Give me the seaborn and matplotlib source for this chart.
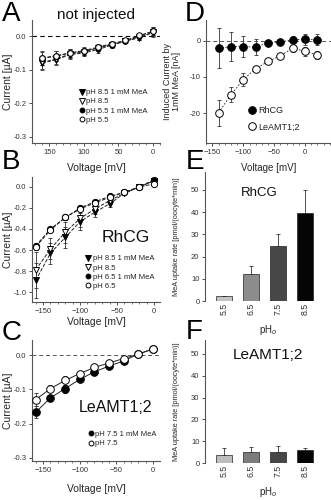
import numpy as np
import pandas as pd
import matplotlib
matplotlib.use("Agg")
import matplotlib.pyplot as plt
import seaborn as sns
from matplotlib.ticker import MultipleLocator, FixedLocator, FixedFormatter
from matplotlib.lines import Line2D

sns.set_theme(style="ticks")
plt.rcParams['font.family'] = ['Liberation Sans', 'DejaVu Sans']
plt.rcParams['axes.linewidth'] = 0.8
plt.rcParams['axes.edgecolor'] = '#555555'

# ---------------- data ----------------
volt = [-160, -140, -120, -100, -80, -60, -40, -20, 0]

# Panel A (not injected)
a_tri_f = [-0.080, -0.070, -0.055, -0.050, -0.040, -0.027, -0.015, -0.005, 0.012]
a_tri_o = [-0.078, -0.068, -0.053, -0.047, -0.035, -0.025, -0.014, -0.003, 0.010]
a_cir_f = [-0.065, -0.058, -0.050, -0.045, -0.035, -0.025, -0.015, 0.000, 0.015]
a_cir_o = [-0.066, -0.060, -0.050, -0.043, -0.033, -0.022, -0.013, 0.002, 0.014]
a_err = [0.020, 0.015, 0.012, 0.010, 0.010, 0.008, 0.006, 0.008, 0.012]
a_labels = ["pH 8.5 1 mM MeA", "pH 8.5", "pH 5.5 1 mM MeA", "pH 5.5"]

# Panel B (RhCG)
b_tri_f = [-0.89, -0.63, -0.48, -0.33, -0.24, -0.16, -0.06, 0.00, 0.06]
b_tri_o = [-0.79, -0.59, -0.43, -0.30, -0.21, -0.13, -0.06, 0.00, 0.06]
b_cir_f = [-0.56, -0.40, -0.29, -0.20, -0.14, -0.09, -0.05, 0.00, 0.07]
b_cir_o = [-0.57, -0.41, -0.29, -0.21, -0.15, -0.10, -0.05, 0.00, 0.03]
b_err_tri = [0.17, 0.10, 0.10, 0.08, 0.05, 0.03, 0.02, 0.02, 0.03]
b_err_cir = [0.03, 0.02, 0.02, 0.02, 0.02, 0.02, 0.01, 0.01, 0.02]
b_labels = ["pH 8.5 1 mM MeA", "pH 8.5", "pH 6.5 1 mM MeA", "pH 6.5"]

# Panel C (LeAMT1;2)
c_cir_f = [-0.167, -0.125, -0.098, -0.071, -0.049, -0.032, -0.017, 0.003, 0.018]
c_cir_o = [-0.130, -0.098, -0.074, -0.054, -0.036, -0.023, -0.010, 0.003, 0.018]
c_err = [0.018, 0.010, 0.012, 0.006, 0.005, 0.004, 0.004, 0.003, 0.003]
c_labels = ["pH 7.5 1 mM MeA", "pH 7.5"]

# Panel D (induced current)
d_volt = [-140, -120, -100, -80, -60, -40, -20, 0, 20]
d_rhcg = [-2.0, -1.6, -1.6, -1.7, -0.5, -0.3, 0.3, 0.5, 0.3]
d_rhcg_err = [5.6, 4.0, 2.9, 2.2, 0.6, 0.6, 1.0, 1.5, 1.5]
d_leamt = [-19.9, -14.9, -10.7, -7.7, -5.7, -4.1, -2.0, -2.9, -3.9]
d_leamt_err = [3.6, 2.0, 1.8, 0.8, 0.5, 0.5, 1.0, 1.2, 1.2]
d_labels = ["RhCG", "LeAMT1;2"]

# Panels E, F (uptake)
ph_cats = ["5.5", "6.5", "7.5", "8.5"]
e_vals = [2.2, 12.0, 24.6, 39.7]
e_err = [0.0, 3.7, 5.3, 10.2]
f_vals = [3.5, 5.1, 4.9, 6.1]
f_err = [3.4, 2.2, 2.8, 1.0]
e_colors = ["#c4c4c4", "#8c8c8c", "#474747", "#050505"]
f_colors = ["#bdbdbd", "#7c7c7c", "#474747", "#050505"]

# ---------------- figure ----------------
W, H = 331, 500
fig = plt.figure(figsize=(W / 100, H / 100), dpi=100)
fig.patch.set_facecolor("white")


def add_ax(left, top, right, bottom):
    ax = fig.add_axes([left / W, 1 - bottom / H, (right - left) / W, (bottom - top) / H])
    ax.set_facecolor("none")
    return ax


def style(ax, tick_fs=5.5):
    sns.despine(ax=ax)
    ax.tick_params(axis="both", labelsize=tick_fs, colors="#333333", length=2.5, width=0.6, pad=1.5)
    ax.tick_params(axis="both", which="minor", length=1.5, width=0.6, colors="#666666")
    ax.patch.set_alpha(0)


def series(ax, x, y, err, marker, fill, ls, ms, lw=0.7, label=None):
    face = "black" if fill else "white"
    ax.errorbar(x, y, yerr=err, fmt="none", ecolor="#333333", elinewidth=0.6, capsize=1.5, capthick=0.6, zorder=2)
    sns.lineplot(x=x, y=y, ax=ax, marker=marker, markersize=ms, markerfacecolor=face,
                 markeredgecolor="black", markeredgewidth=0.7, color="#222222", linewidth=lw,
                 linestyle=ls, label=label, legend=False, zorder=3)


def small_legend(ax, handles, labels, anchor, fs=5.5, spacing=0.25):
    leg = ax.legend(handles, labels, loc="upper left", bbox_to_anchor=anchor, frameon=False,
                    fontsize=fs, handlelength=0.6, handletextpad=0.3, labelspacing=spacing,
                    borderpad=0, borderaxespad=0)
    for t in leg.get_texts():
        t.set_color("#222222")


def mk(marker, fill, ms):
    return Line2D([], [], linestyle="none", marker=marker, markersize=ms,
                  markerfacecolor="black" if fill else "white", markeredgecolor="black", markeredgewidth=0.7)


# ---- Panel A ----
axA = add_ax(32, 20, 160, 143)
axA.axhline(0, color="black", linestyle=(0, (4, 3)), linewidth=0.8, zorder=1)
series(axA, volt, a_tri_f, a_err, "v", True, "--", 4.5)
series(axA, volt, a_tri_o, a_err, "v", False, "--", 4.5)
series(axA, volt, a_cir_f, a_err, "o", True, "--", 4)
series(axA, volt, a_cir_o, a_err, "o", False, "--", 4)
axA.set_xlim(-175, 10)
axA.set_ylim(-0.318, 0.048)
axA.xaxis.set_major_locator(FixedLocator([-150, -100, -50, 0]))
axA.xaxis.set_major_formatter(FixedFormatter(["150", "100", "50", "0"]))
axA.xaxis.set_minor_locator(MultipleLocator(10))
axA.set_yticks([0.0, -0.1, -0.2, -0.3])
axA.set_yticklabels(["0.0", "-0.1", "-0.2", "-0.3"])
style(axA)
axA.set_xlabel("Voltage [mV]", fontsize=7.5)
axA.set_ylabel("Current [µA]", fontsize=7.5)
axA.xaxis.set_label_coords(0.5, -0.165)
axA.yaxis.set_label_coords(-0.145, 0.5)
small_legend(axA, [mk("v", True, 4), mk("v", False, 4), mk("o", True, 3.5), mk("o", False, 3.5)],
             a_labels, (0.37, 0.44))
fig.text(96 / W, 1 - 15 / H, "not injected", fontsize=11, ha="center", va="center", color="#111111")

# ---- Panel B ----
axB = add_ax(32, 177, 160, 302)
series(axB, volt, b_tri_f, b_err_tri, "v", True, "--", 5)
series(axB, volt, b_tri_o, b_err_tri, "v", False, "--", 5)
series(axB, volt, b_cir_f, b_err_cir, "o", True, "--", 4.5)
series(axB, volt, b_cir_o, b_err_cir, "o", False, "--", 4.5)
axB.set_xlim(-165, 8)
axB.set_ylim(-1.095, 0.095)
axB.set_xticks([-150, -100, -50, 0])
axB.xaxis.set_minor_locator(MultipleLocator(10))
axB.set_yticks([0.0, -0.2, -0.4, -0.6, -0.8, -1.0])
axB.set_yticklabels(["0.0", "-0.2", "-0.4", "-0.6", "-0.8", "-1.0"])
style(axB)
axB.set_xlabel("Voltage [mV]", fontsize=7.5)
axB.set_ylabel("Current [µA]", fontsize=7.5)
axB.xaxis.set_label_coords(0.5, -0.12)
axB.yaxis.set_label_coords(-0.145, 0.5)
small_legend(axB, [mk("v", True, 4), mk("v", False, 4), mk("o", True, 3.5), mk("o", False, 3.5)],
             b_labels, (0.42, 0.376))
fig.text(126 / W, 1 - 237 / H, "RhCG", fontsize=12.5, ha="center", va="center", color="#111111")

# ---- Panel C ----
axC = add_ax(32, 340, 160, 461)
axC.axhline(0, color="#555555", linestyle=(0, (4, 3)), linewidth=0.7, zorder=1)
series(axC, volt, c_cir_f, c_err, "o", True, "-", 5.5)
series(axC, volt, c_cir_o, c_err, "o", False, "-", 5.5)
axC.set_xlim(-165, 9.5)
axC.set_ylim(-0.309, 0.044)
axC.set_xticks([-150, -100, -50, 0])
axC.xaxis.set_minor_locator(MultipleLocator(10))
axC.set_yticks([0.0, -0.1, -0.2, -0.3])
axC.set_yticklabels(["0.0", "-0.1", "-0.2", "-0.3"])
style(axC)
axC.set_xlabel("Voltage [mV]", fontsize=7.5)
axC.set_ylabel("Current [µA]", fontsize=7.5)
axC.xaxis.set_label_coords(0.5, -0.19)
axC.yaxis.set_label_coords(-0.145, 0.5)
small_legend(axC, [mk("o", True, 3.5), mk("o", False, 3.5)], c_labels, (0.44, 0.25))
fig.text(115 / W, 1 - 408 / H, "LeAMT1;2", fontsize=11.5, ha="center", va="center", color="#111111")

# ---- Panel D ----
axD = add_ax(206, 20, 331, 143)
axD.axhline(0, color="#555555", linestyle=(0, (4, 3)), linewidth=0.7, zorder=1)
series(axD, d_volt, d_rhcg, d_rhcg_err, "o", True, (0, (2, 2)), 5.5, lw=0.6)
series(axD, d_volt, d_leamt, d_leamt_err, "o", False, (0, (2, 2)), 5.5, lw=0.6)
axD.set_xlim(-160.5, 42)
axD.set_ylim(-28.3, 5.8)
axD.set_xticks([-150, -100, -50, 0])
axD.xaxis.set_minor_locator(MultipleLocator(10))
axD.set_yticks([0, -10, -20])
axD.set_yticklabels(["0", "-10", "-20"])
style(axD, tick_fs=5.5)
axD.set_xlabel("Voltage [mV]", fontsize=7)
axD.set_ylabel("Induced Current by\n1mM MeA [nA]", fontsize=6.5, linespacing=1.0)
axD.xaxis.set_label_coords(0.5, -0.16)
axD.yaxis.set_label_coords(-0.2, 0.5)
small_legend(axD, [mk("o", True, 5.5), mk("o", False, 5.5)], d_labels, (0.35, 0.3), fs=6.5, spacing=0.8)

# ---- Panel E ----
axE = add_ax(205, 172, 331, 301)
dfE = pd.DataFrame({"pH": ph_cats, "rate": e_vals})
sns.barplot(data=dfE, x="pH", y="rate", hue="pH", palette=e_colors, legend=False, ax=axE,
            width=0.58, edgecolor="#222222", linewidth=0.5, errorbar=None)
axE.errorbar(range(len(ph_cats)), e_vals, yerr=[np.zeros(len(e_err)), e_err], fmt="none",
             ecolor="#333333", elinewidth=0.6, capsize=1.5, capthick=0.6)
axE.set_xlim(-0.7, 3.96)
axE.set_ylim(0, 58)
axE.set_yticks([0, 10, 20, 30, 40, 50])
style(axE, tick_fs=5.5)
axE.tick_params(axis="x", rotation=90, length=0, labelsize=6.3)
axE.spines["bottom"].set_visible(False)
axE.set_xlabel("pH$_o$", fontsize=7)
axE.set_ylabel("MeA uptake rate [pmol/(oocyte*min)]", fontsize=5.3)
axE.xaxis.set_label_coords(0.5, -0.17)
axE.yaxis.set_label_coords(-0.2, 0.5)
fig.text(259 / W, 1 - 193 / H, "RhCG", fontsize=9.5, ha="center", va="center", color="#111111")

# ---- Panel F ----
axF = add_ax(205, 340, 331, 463)
dfF = pd.DataFrame({"pH": ph_cats, "rate": f_vals})
sns.barplot(data=dfF, x="pH", y="rate", hue="pH", palette=f_colors, legend=False, ax=axF,
            width=0.58, edgecolor="#222222", linewidth=0.5, errorbar=None)
axF.errorbar(range(len(ph_cats)), f_vals, yerr=[np.zeros(len(f_err)), f_err], fmt="none",
             ecolor="#333333", elinewidth=0.6, capsize=1.5, capthick=0.6)
axF.set_xlim(-0.7, 3.96)
axF.set_ylim(0, 56.4)
axF.set_yticks([0, 10, 20, 30, 40, 50])
style(axF, tick_fs=5.5)
axF.tick_params(axis="x", rotation=90, length=0, labelsize=6.3)
axF.spines["bottom"].set_visible(False)
axF.set_xlabel("pH$_o$", fontsize=7)
axF.set_ylabel("MeA uptake rate [pmol/(oocyte*min)]", fontsize=5.3)
axF.xaxis.set_label_coords(0.5, -0.175)
axF.yaxis.set_label_coords(-0.2, 0.5)
fig.text(268 / W, 1 - 355 / H, "LeAMT1;2", fontsize=11, ha="center", va="center", color="#111111")

# ---- panel letters ----
for letter, x, y in [("A", 2, 1), ("B", 2, 149), ("C", 2, 320), ("D", 185, 1), ("E", 186, 149), ("F", 186, 319)]:
    fig.text(x / W, 1 - y / H, letter, fontsize=20, ha="left", va="top", color="black")

fig.savefig("out.png", dpi=100, facecolor="white")
